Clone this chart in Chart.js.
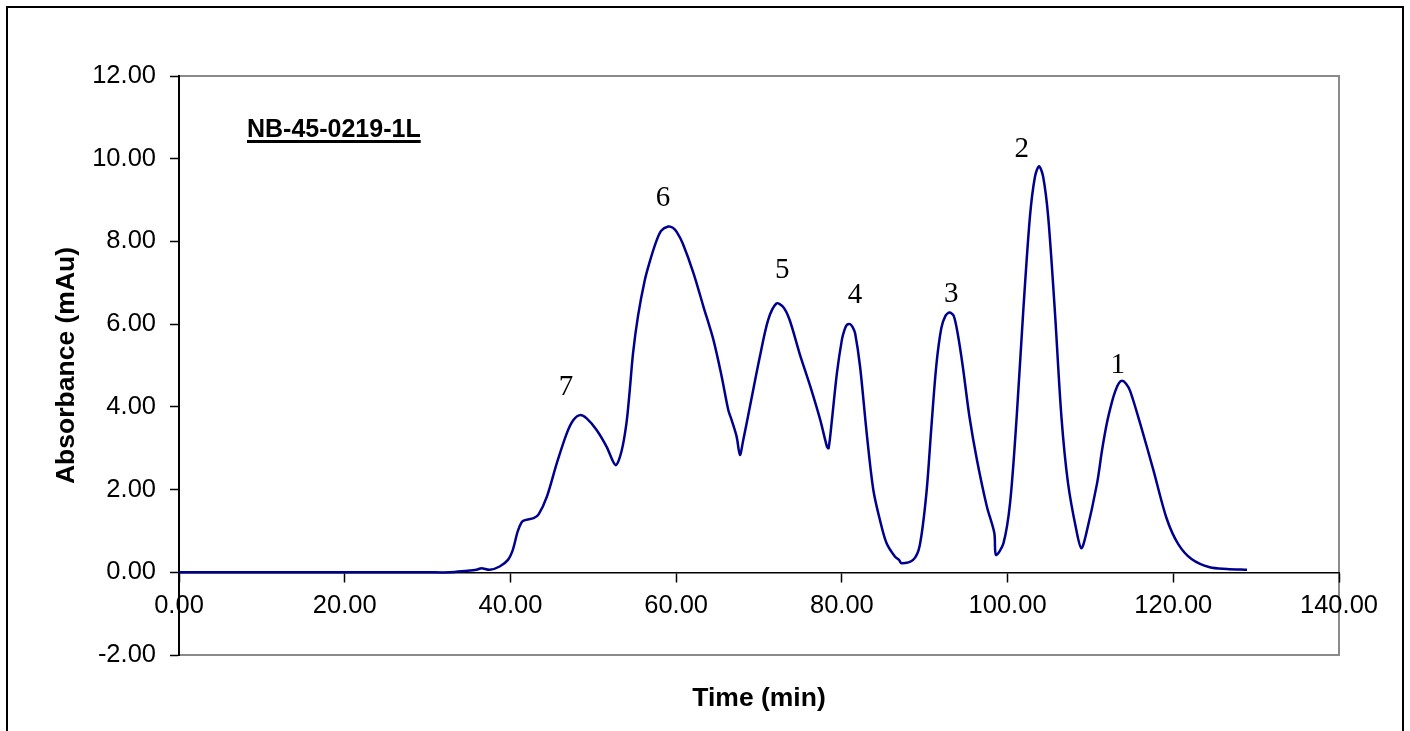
<!DOCTYPE html>
<html>
<head>
<meta charset="utf-8">
<script src="https://cdn.jsdelivr.net/npm/chart.js@4.4.1/dist/chart.umd.min.js"></script>
<style>
  html, body { margin: 0; padding: 0; background: #fff; }
  #wrap { width: 1410px; height: 731px; position: relative; }
</style>
</head>
<body>
<div id="wrap"><canvas id="c" width="1410" height="731"></canvas></div>
<script>
// ---- data ----
const timeMin = [0, 10, 20, 30, 32.7, 34.5, 35.9, 36.5, 37.5, 38.7, 39.7, 40.3, 40.9, 41.5, 42.8, 43.4, 44.4, 45.6, 46.8, 47.6, 48.4, 49.2, 50.4, 51.6, 52.7, 53.4, 54.0, 54.4, 54.8, 55.4, 56.2, 56.8, 57.6, 58.2, 59.05, 59.6, 60.1, 60.8, 62.1, 63.3, 64.5, 65.5, 66.3, 66.7, 67.3, 67.7, 68.1, 68.9, 70.1, 71.1, 72.1, 72.9, 73.7, 74.9, 76.2, 77.4, 78.2, 78.4, 78.8, 79.4, 80.0, 80.3, 80.6, 81.0, 81.3, 81.6, 82.2, 83.0, 83.8, 84.6, 85.4, 86.4, 86.9, 87.2, 88.6, 89.4, 90.2, 90.8, 91.4, 92.0, 92.5, 93.0, 93.5, 94.0, 94.6, 95.4, 96.3, 97.5, 98.4, 98.6, 99.5, 100.3, 101.1, 101.9, 102.7, 103.3, 103.8, 104.3, 104.9, 105.7, 106.5, 107.3, 108.3, 108.9, 109.5, 110.8, 111.4, 112.0, 112.6, 113.0, 113.4, 113.8, 114.3, 114.8, 116.0, 117.6, 119.2, 120.6, 122.2, 124.4, 126.5, 128.9];
const absorbance = [0, 0, 0, 0, 0, 0.03, 0.06, 0.1, 0.06, 0.14, 0.3, 0.55, 1.0, 1.24, 1.31, 1.4, 1.83, 2.64, 3.36, 3.68, 3.8, 3.72, 3.44, 3.04, 2.59, 2.92, 3.6, 4.4, 5.3, 6.2, 7.05, 7.5, 8.0, 8.26, 8.36, 8.33, 8.22, 7.95, 7.23, 6.42, 5.62, 4.73, 3.92, 3.68, 3.28, 2.84, 3.2, 4.0, 5.21, 6.1, 6.5, 6.42, 6.1, 5.29, 4.49, 3.68, 3.04, 3.0, 3.68, 4.81, 5.62, 5.85, 5.98, 6.0, 5.93, 5.78, 4.97, 3.36, 1.99, 1.26, 0.7, 0.38, 0.3, 0.22, 0.3, 0.65, 1.9, 3.5, 5.0, 5.9, 6.2, 6.28, 6.2, 5.75, 4.97, 3.76, 2.72, 1.59, 0.95, 0.42, 0.7, 1.67, 3.76, 6.34, 8.6, 9.56, 9.82, 9.56, 8.6, 6.34, 3.76, 2.15, 1.02, 0.58, 0.94, 2.15, 2.95, 3.62, 4.12, 4.38, 4.56, 4.63, 4.56, 4.38, 3.6, 2.47, 1.3, 0.68, 0.32, 0.12, 0.08, 0.06];

const peakNames = ['7', '6', '5', '4', '3', '2', '1'];
const peakLabelTime = [46.7, 58.4, 72.8, 81.6, 93.2, 101.7, 113.3];
const peakLabelAbs = [4.46, 9.03, 7.31, 6.70, 6.73, 10.23, 5.01];

const xTickMin = 0, xTickMax = 140, xTickStep = 20;
const yTickMin = -2, yTickMax = 12, yTickStep = 2;

const sampleName = 'NB-45-0219-1L';
const xTitle = 'Time (min)';
const yTitle = 'Absorbance (mAu)';

// ---- chart ----
Chart.defaults.font.family = "'Liberation Sans', Arial, sans-serif";
Chart.defaults.color = '#000';

const points = timeMin.map((t, i) => ({ x: t, y: absorbance[i] }));

const decor = {
  id: 'decor',
  beforeDraw(chart) {
    const ctx = chart.ctx;
    const a = chart.chartArea;
    ctx.save();
    ctx.fillStyle = '#fff';
    ctx.fillRect(0, 0, chart.width, chart.height);
    // outer frame
    ctx.strokeStyle = '#000';
    ctx.lineWidth = 2;
    ctx.strokeRect(7, 7, 1396, 800);
    // plot area frame
    ctx.strokeStyle = '#8a8a8a';
    ctx.lineWidth = 2;
    ctx.strokeRect(a.left, a.top, a.right - a.left, a.bottom - a.top);
    ctx.restore();
  },
  afterDatasetsDraw(chart) {
    const ctx = chart.ctx;
    const xs = chart.scales.x, ys = chart.scales.y;
    ctx.save();
    // sample name, bold underlined
    ctx.font = "bold 25px 'Liberation Sans', Arial, sans-serif";
    ctx.fillStyle = '#000';
    ctx.textBaseline = 'alphabetic';
    ctx.textAlign = 'left';
    const tx = 247, ty = 137;
    ctx.fillText(sampleName, tx, ty, 176);
    const w = Math.min(ctx.measureText(sampleName).width, 176);
    ctx.fillRect(tx, ty + 3, w, 3);
    // peak numbers
    ctx.font = "29px 'Liberation Serif', 'Times New Roman', serif";
    ctx.textAlign = 'center';
    ctx.textBaseline = 'middle';
    peakNames.forEach((n, i) => {
      ctx.fillText(n, xs.getPixelForValue(peakLabelTime[i]), ys.getPixelForValue(peakLabelAbs[i]));
    });
    ctx.restore();
  }
};

const tickFont = { size: 25.5, family: "'Liberation Sans', Arial, sans-serif" };
const titleFont = { size: 26.5, weight: 'bold', family: "'Liberation Sans', Arial, sans-serif" };

new Chart(document.getElementById('c'), {
  type: 'line',
  data: {
    datasets: [{
      data: points,
      borderColor: '#00008f',
      borderWidth: 2.5,
      pointRadius: 0,
      fill: false,
      tension: 0.3,
      clip: false
    }]
  },
  options: {
    responsive: false,
    animation: false,
    events: [],
    layout: { padding: { top: 76, right: 71, left: 0, bottom: 0 } },
    plugins: { legend: { display: false }, tooltip: { enabled: false } },
    scales: {
      x: {
        type: 'linear',
        position: { y: 0 },
        min: xTickMin, max: xTickMax,
        ticks: {
          stepSize: xTickStep,
          font: tickFont,
          color: '#000',
          padding: 9,
          maxRotation: 0,
          autoSkip: false,
          callback: v => Number(v).toFixed(2)
        },
        grid: { drawOnChartArea: false, drawTicks: true, tickLength: 9, tickColor: '#000', tickWidth: 1.5 },
        border: { display: true, color: '#000', width: 1.5 }
      },
      x2: {
        type: 'linear',
        position: 'bottom',
        min: xTickMin, max: xTickMax,
        ticks: { display: false },
        grid: { display: false, drawTicks: false },
        border: { display: false },
        title: { display: true, text: xTitle, font: titleFont, color: '#000', padding: { top: 0, bottom: 16 } },
        afterFit(s) { s.height = 76; }
      },
      y: {
        type: 'linear',
        position: 'left',
        min: yTickMin, max: yTickMax,
        ticks: {
          stepSize: yTickStep,
          font: tickFont,
          color: '#000',
          padding: 14,
          callback: v => Number(v).toFixed(2)
        },
        grid: { drawOnChartArea: false, drawTicks: true, tickLength: 9, tickColor: '#000', tickWidth: 1.5 },
        border: { display: true, color: '#000', width: 2 },
        title: { display: true, text: yTitle, font: titleFont, color: '#000', padding: { top: 51, bottom: 0 } },
        afterFit(s) { s.width = 179; }
      }
    }
  },
  plugins: [decor]
});
</script>
</body>
</html>
